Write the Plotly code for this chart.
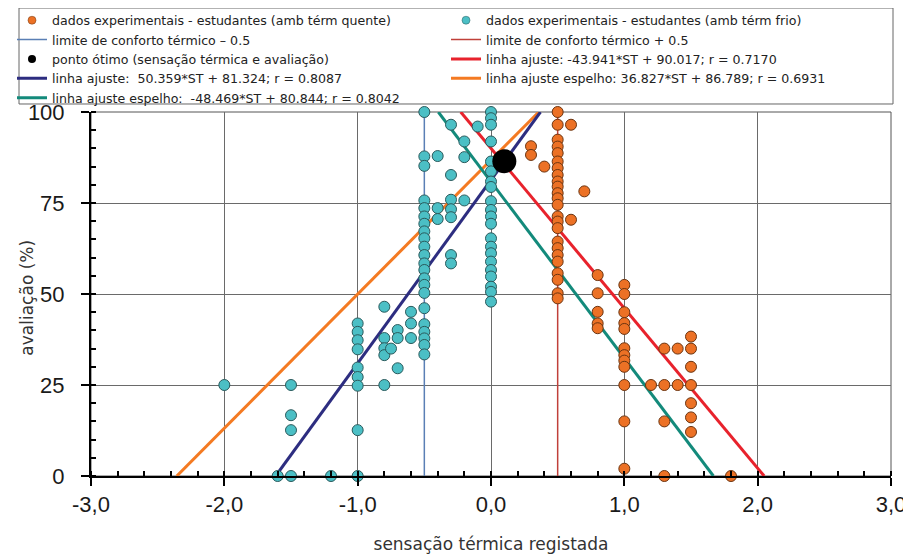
import plotly.graph_objects as go

# ---------------- data ----------------
# students, cold thermal environment (cyan)
frio_st = ([-2.0] + [-1.6] + [-1.5] * 4 + [-1.2] + [-1.0] * 9 + [-0.8] * 5 + [-0.75]
           + [-0.7] * 3 + [-0.6] * 3 + [-0.5] * 22 + [-0.4] * 3 + [-0.3] * 7
           + [-0.2] * 3 + [-0.1] + [0.0] * 21)
frio_aval = ([25]
             + [0]
             + [25, 16.7, 12.6, 0]
             + [0]
             + [41.9, 39.6, 37.3, 34.8, 29.8, 27.2, 24.8, 12.6, 0]
             + [46.5, 37.9, 35.1, 33.2, 25]
             + [35]
             + [40.1, 37.9, 29.6]
             + [45.1, 41.9, 37.9]
             + [100, 87.8, 85.2, 75.7, 73.6, 71.3, 69.3, 67.2, 65.3, 63.0, 60.7, 58.4,
                56.6, 54.3, 52.5, 50.3, 46.1, 41.7, 39.6, 37.8, 36.0, 33.4]
             + [87.9, 73.6, 70.6]
             + [96.5, 82.7, 75.9, 73.3, 71.1, 60.7, 58.4]
             + [91.9, 87.6, 75.7]
             + [96.0]
             + [100, 98.3, 96.5, 91.9, 86.4, 83.7, 80.9, 79.4, 75.5, 73.1, 71.3, 69.3,
                65.3, 63.0, 61.2, 58.9, 56.6, 54.8, 52.0, 50.6, 47.9])

# students, warm thermal environment (orange)
quente_st = ([0.3] * 2 + [0.4] + [0.5] * 24 + [0.6] * 2 + [0.7] + [0.8] * 5 + [1.0] * 12
             + [1.2] + [1.3] * 4 + [1.4] * 2 + [1.5] * 7 + [1.8])
quente_aval = ([90.6, 88.2]
               + [85.0]
               + [100, 96.5, 92.4, 90.5, 88.7, 86.4, 84.6, 82.7, 80.9, 79.5, 77.7, 76.3,
                  74.5, 71.3, 69.9, 68.1, 64.4, 62.6, 60.7, 58.9, 55.7, 53.9, 50.2, 48.8]
               + [96.5, 70.4]
               + [78.2]
               + [55.2, 50.2, 45.1, 41.9, 40.6]
               + [52.5, 50.0, 45.0, 42.0, 40.4, 35.1, 33.2, 31.7, 30.0, 25.0, 15.0, 2.0]
               + [25.0]
               + [35.0, 25.0, 15.0, 0.0]
               + [35.0, 25.0]
               + [38.3, 35.0, 30.0, 25.0, 20.0, 16.1, 12.1]
               + [0.0])

# optimum point
otimo_st = [0.1]
otimo_aval = [86.5]

# comfort limits
limites_st = [-0.5, 0.5]
aval_range = [0, 100]

# fitted lines: slope, intercept
ajuste_frio = (50.359, 81.324)
espelho_frio = (-48.469, 80.844)
ajuste_quente = (-43.941, 90.017)
espelho_quente = (36.827, 86.789)

x_ticks = [-3, -2, -1, 0, 1, 2, 3]
x_ticktext = ["-3,0", "-2,0", "-1,0", "0,0", "1,0", "2,0", "3,0"]
y_ticks = [0, 25, 50, 75, 100]

# ---------------- colours ----------------
C_CYAN = "#4bbfc5"
C_ORANGE_DOT = "#ec7125"
C_NAVY = "#2d2d80"
C_TEAL = "#138a7b"
C_RED = "#e8222c"
C_ORANGE_LN = "#f47a22"
C_LIM_NEG = "#5a7fb5"
C_LIM_POS = "#c0403a"

NAME_QUENTE = "dados experimentais - estudantes (amb térm quente)"
NAME_FRIO = "dados experimentais - estudantes (amb térm frio)"
NAME_OTIMO = "ponto ótimo (sensação térmica e avaliação)"


def fit_line(coef):
    m, b = coef
    xs = [(aval_range[0] - b) / m, (aval_range[1] - b) / m]
    ys = [m * x + b for x in xs]
    return xs, ys


fig = go.Figure()

# comfort limit lines
fig.add_trace(go.Scatter(x=[limites_st[0]] * 2, y=aval_range, mode="lines",
                         line=dict(color=C_LIM_NEG, width=1.5),
                         name="limite de conforto térmico – 0.5",
                         legend="legend", legendrank=2))
fig.add_trace(go.Scatter(x=[limites_st[1]] * 2, y=aval_range, mode="lines",
                         line=dict(color=C_LIM_POS, width=1.5),
                         name="limite de conforto térmico + 0.5",
                         legend="legend2", legendrank=2))

# fit lines
xs, ys = fit_line(espelho_quente)
fig.add_trace(go.Scatter(x=xs, y=ys, mode="lines", line=dict(color=C_ORANGE_LN, width=3),
                         name="linha ajuste espelho: 36.827*ST + 86.789; r = 0.6931",
                         legend="legend2", legendrank=4))
xs, ys = fit_line(ajuste_frio)
fig.add_trace(go.Scatter(x=xs, y=ys, mode="lines", line=dict(color=C_NAVY, width=3),
                         name="linha ajuste:\u00a0 50.359*ST + 81.324; r = 0.8087",
                         legend="legend", legendrank=4))
xs, ys = fit_line(ajuste_quente)
fig.add_trace(go.Scatter(x=xs, y=ys, mode="lines", line=dict(color=C_RED, width=3),
                         name="linha ajuste: -43.941*ST + 90.017; r = 0.7170",
                         legend="legend2", legendrank=3))
xs, ys = fit_line(espelho_frio)
fig.add_trace(go.Scatter(x=xs, y=ys, mode="lines", line=dict(color=C_TEAL, width=3),
                         name="linha ajuste espelho:\u00a0 -48.469*ST + 80.844; r = 0.8042",
                         legend="legend", legendrank=5))

# data points (drawn large; small proxies represent them in the legend)
fig.add_trace(go.Scatter(x=frio_st, y=frio_aval, mode="markers", cliponaxis=False,
                         marker=dict(size=11, color=C_CYAN, line=dict(color="#2a5a5c", width=1)),
                         name=NAME_FRIO, showlegend=False))
fig.add_trace(go.Scatter(x=quente_st, y=quente_aval, mode="markers", cliponaxis=False,
                         marker=dict(size=11, color=C_ORANGE_DOT, line=dict(color="#6b3410", width=1)),
                         name=NAME_QUENTE, showlegend=False))
fig.add_trace(go.Scatter(x=otimo_st, y=otimo_aval, mode="markers", cliponaxis=False,
                         marker=dict(size=24, color="black"), name=NAME_OTIMO,
                         showlegend=False))

# legend proxies
fig.add_trace(go.Scatter(x=[None], y=[None], mode="markers",
                         marker=dict(size=8, color=C_CYAN, line=dict(color="#2a5a5c", width=0.5)),
                         name=NAME_FRIO, legend="legend2", legendrank=1))
fig.add_trace(go.Scatter(x=[None], y=[None], mode="markers",
                         marker=dict(size=8, color=C_ORANGE_DOT, line=dict(color="#6b3410", width=0.5)),
                         name=NAME_QUENTE, legend="legend", legendrank=1))
fig.add_trace(go.Scatter(x=[None], y=[None], mode="markers",
                         marker=dict(size=8, color="black"),
                         name=NAME_OTIMO, legend="legend", legendrank=3))

legend_font = dict(family="DejaVu Sans", size=12.6, color="#222")
tick_font = dict(family="Liberation Sans, Arial", size=22, color="#1a1a1a")
title_font = dict(family="DejaVu Sans", size=17, color="#333")

fig.update_layout(
    width=903, height=550,
    margin=dict(l=83, r=20, t=104, b=82, autoexpand=False),
    paper_bgcolor="white", plot_bgcolor="white",
    showlegend=True,
    legend=dict(x=-0.09875, y=1.2925, xanchor="left", yanchor="top", font=legend_font,
                bgcolor="rgba(0,0,0,0)", borderwidth=0, itemwidth=30,
                tracegroupgap=0),
    legend2=dict(x=0.44375, y=1.2925, xanchor="left", yanchor="top", font=legend_font,
                 bgcolor="rgba(0,0,0,0)", borderwidth=0, itemwidth=30,
                 tracegroupgap=0),
    shapes=[
        dict(type="rect", xref="paper", yref="paper", x0=-0.09, x1=1.0025,
             y0=1.022, y1=1.2857, line=dict(color="#666", width=1), layer="below"),
        dict(type="rect", xref="paper", yref="paper", x0=0, x1=1, y0=0, y1=1,
             line=dict(color="#555", width=1), layer="below"),
    ],
    annotations=[
        dict(text="avaliação (%)", xref="paper", yref="paper", x=-0.08, y=0.49,
             xanchor="center", yanchor="middle", textangle=-90, showarrow=False,
             font=title_font),
    ],
    xaxis=dict(range=[-3, 3], tickvals=x_ticks, ticktext=x_ticktext,
               showgrid=True, gridcolor="#6a6a6a", gridwidth=1, zeroline=False,
               showline=True, linecolor="black", linewidth=2,
               ticks="outside", ticklen=8, tickwidth=2, tickcolor="black",
               minor=dict(dtick=0.2, ticks="inside", ticklen=5, tickwidth=1.5,
                          tickcolor="black", showgrid=False),
               tickfont=tick_font, ticklabelstandoff=0,
               title=dict(text="sensação térmica registada", font=title_font, standoff=22)),
    yaxis=dict(range=[0, 100], tickvals=y_ticks,
               showgrid=True, gridcolor="#6a6a6a", gridwidth=1, zeroline=False,
               showline=True, linecolor="black", linewidth=2,
               ticks="outside", ticklen=8, tickwidth=2, tickcolor="black",
               minor=dict(dtick=5, ticks="inside", ticklen=5, tickwidth=1.5,
                          tickcolor="black", showgrid=False),
               tickfont=tick_font, ticklabelstandoff=12),
)

fig.write_html("out.html")
